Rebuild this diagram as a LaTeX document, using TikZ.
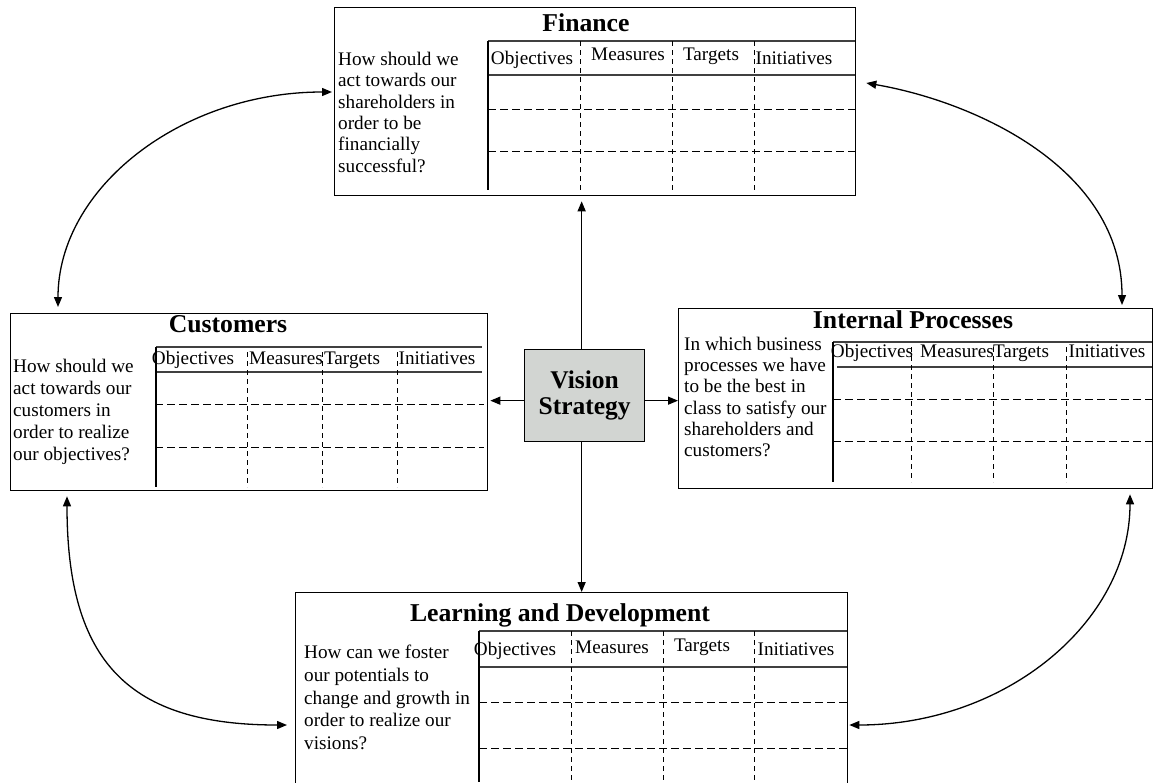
\documentclass[tikz,border=0pt]{standalone}
\usepackage{fontspec}
\setmainfont{Liberation Serif}
\usetikzlibrary{arrows.meta,calc}
\definecolor{visgray}{RGB}{210,213,210}
\begin{document}
\begin{tikzpicture}[x=1pt,y=-1pt,
  box/.style={draw=black, line width=1.3pt, inner sep=0pt, anchor=north west},
  hline/.style={draw=black!75, line width=1.6pt},
  vsolid/.style={draw=black, line width=1.5pt},
  hdash/.style={draw=black, line width=1pt, dash pattern=on 8pt off 4pt},
  vdash/.style={draw=black, line width=1pt, dash pattern=on 5pt off 4pt},
  boxtitle/.style={font=\fontsize{25.7}{27}\selectfont\bfseries, anchor=base, inner sep=0pt},
  colhead/.style={font=\fontsize{19.2}{21}\selectfont, anchor=base, inner sep=0pt},
  question/.style={align=left, anchor=north west, inner sep=0pt},
  duallink/.style={line width=1.3pt, {Triangle[length=10pt,width=8pt]}-{Triangle[length=10pt,width=8pt]}},
  arr/.style={line width=1.3pt, -{Triangle[length=10pt,width=8pt]}},
]
\useasboundingbox (0,0) rectangle (1153,782);
\clip (0,0) rectangle (1153,782);

% ---------- boxes ----------
\node[box, minimum width=521pt, minimum height=188pt] (fin) at (334,7) {};
\node[box, minimum width=477pt, minimum height=177pt] (cus) at (10,313) {};
\node[box, minimum width=474pt, minimum height=180pt] (int) at (678,308) {};
\node[box, minimum width=552pt, minimum height=220pt] (lrn) at (295,592) {};
\node[box, fill=visgray, minimum width=120pt, minimum height=92pt, align=center,
      font=\fontsize{25.5}{26.5}\selectfont\bfseries] (vis) at (524,349) {Vision\\Strategy};

% ---------- titles ----------
\node[boxtitle] (fint) at (586,31) {Finance};
\node[boxtitle] (cust) at (228,332) {Customers};
\node[boxtitle] (intt) at (913,328) {Internal Processes};
\node[boxtitle] (lrnt) at (560,621) {Learning and Development};

% ---------- questions ----------
\node[question, font=\fontsize{19.2}{21.3}\selectfont] (finq) at (338,52)
  {How should we\\act towards our\\shareholders in\\order to be\\financially\\successful?};
\node[question, font=\fontsize{19.2}{22}\selectfont] (cusq) at (13,359)
  {How should we\\act towards our\\customers in\\order to realize\\our objectives?};
\node[question, font=\fontsize{19.2}{21.2}\selectfont] (intq) at (684,337)
  {In which business\\processes we have\\to be the best in\\class to satisfy our\\shareholders and\\customers?};
\node[question, font=\fontsize{19.2}{22.7}\selectfont] (lrnq) at (304,645)
  {How can we foster\\our potentials to\\change and growth in\\order to realize our\\visions?};

% ---------- Finance table ----------
\draw[hline] (488,41) -- (855,41);
\draw[hline] (488,75) -- (855,75);
\draw[hdash] (488,109) -- (855,109);
\draw[hdash] (488,151) -- (855,151);
\draw[vsolid] (488,41) -- (488,190);
\foreach \x in {580,672,754} \draw[vdash] (\x,41) -- (\x,193);
\node[colhead] (fh1) at (532,64) {Objectives};
\node[colhead] (fh2) at (628,60) {Measures};
\node[colhead] (fh3) at (711,60) {Targets};
\node[colhead] (fh4) at (794,64) {Initiatives};

% ---------- Customers table ----------
\draw[hline] (156,347) -- (482,347);
\draw[hline] (156,372) -- (482,372);
\draw[hdash] (155,404) -- (484,404);
\draw[hdash] (155,447) -- (484,447);
\draw[vsolid] (156,347) -- (156,487);
\foreach \x in {247,322,397} \draw[vdash] (\x,352) -- (\x,487);
\node[colhead] (ch1) at (193,364) {Objectives};
\node[colhead] (ch2) at (286,364) {Measures};
\node[colhead] (ch3) at (352,364) {Targets};
\node[colhead] (ch4) at (437,364) {Initiatives};

% ---------- Internal table ----------
\draw[hline] (833,342) -- (1152,342);
\draw[hline] (837,367) -- (1152,367);
\draw[hdash] (833,399) -- (1152,399);
\draw[hdash] (833,441) -- (1152,441);
\draw[vsolid] (833,342) -- (833,482);
\foreach \x in {911,993,1066} \draw[vdash] (\x,347) -- (\x,482);
\node[colhead] (ih1) at (872,357) {Objectives};
\node[colhead] (ih2) at (957,357) {Measures};
\node[colhead] (ih3) at (1021,357) {Targets};
\node[colhead] (ih4) at (1107,357) {Initiatives};

% ---------- Learning table ----------
\draw[hline] (479,631) -- (847,631);
\draw[hline] (479,667) -- (847,667);
\draw[hdash] (479,702) -- (847,702);
\draw[hdash] (479,748) -- (847,748);
\draw[vsolid] (479,631) -- (479,782);
\foreach \x in {571,663,754} \draw[vdash] (\x,631) -- (\x,782);
\node[colhead] (lh1) at (515,655) {Objectives};
\node[colhead] (lh2) at (612,653) {Measures};
\node[colhead] (lh3) at (702,651) {Targets};
\node[colhead] (lh4) at (796,655) {Initiatives};

% ---------- arrows from Vision ----------
\draw[arr, shorten >=5pt] ([xshift=-3pt]vis.north) -- ([xshift=-3pt]vis.north |- fin.south);
\draw[arr] ([xshift=-3pt]vis.south) -- ([xshift=-3pt]vis.south |- lrn.north);
\draw[arr, shorten >=2pt] ([yshift=-5pt]vis.west) -- ([yshift=-5pt]vis.west -| cus.east);
\draw[arr] ([yshift=-5pt]vis.east) -- ([yshift=-5pt]vis.east -| int.west);

% ---------- curved connectors ----------
\coordinate (fA) at ($(fin.north west)+(-2,85)$);
\coordinate (cA) at ($(cus.north west)+(48,-6)$);
\coordinate (fB) at ($(fin.north east)+(10,76)$);
\coordinate (iB) at ($(int.north west)+(444,-3)$);
\coordinate (cC) at ($(cus.south west)+(57,5)$);
\coordinate (lC) at ($(lrn.north west)+(-8,133)$);
\coordinate (iD) at ($(int.south west)+(452,5)$);
\coordinate (lD) at ($(lrn.north east)+(1,133)$);

\draw[duallink] (cA) .. controls +(0,-119) and +(-151,0) .. (fA);
\draw[duallink] (fB) .. controls +(110,19) and +(0,-136) .. (iB);
\draw[duallink] (cC) .. controls +(0,166) and +(-158,0) .. (lC);
\draw[duallink] (iD) .. controls +(0,128) and +(156,0) .. (lD);
\end{tikzpicture}
\end{document}
